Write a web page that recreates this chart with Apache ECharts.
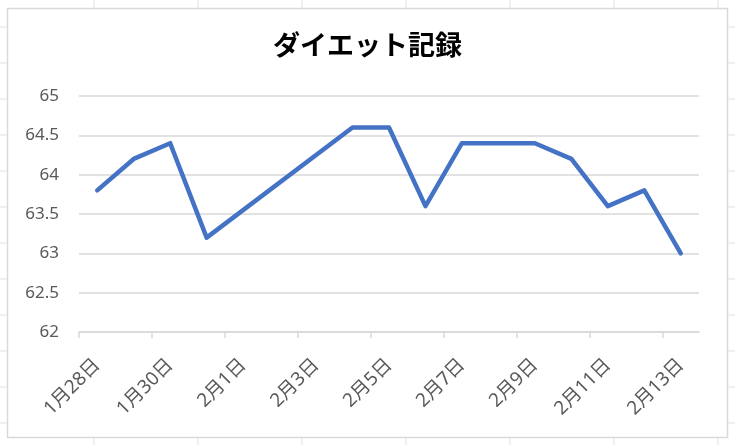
<!DOCTYPE html>
<html><head><meta charset="utf-8">
<script src="https://cdn.jsdelivr.net/npm/echarts@6/dist/echarts.min.js"></script>
<style>html,body{margin:0;padding:0;background:#fff}#c{width:735px;height:445px}</style>
</head><body><div id="c"></div>
<script>
const titleText = 'ダイエット記録';
const categories = ['1月28日','1月29日','1月30日','1月31日','2月1日','2月2日','2月3日','2月4日','2月5日','2月6日','2月7日','2月8日','2月9日','2月10日','2月11日','2月12日','2月13日'];
const weights = [63.8, 64.2, 64.4, 63.2, null, null, null, 64.6, 64.6, 63.6, 64.4, 64.4, 64.4, 64.2, 63.6, 63.8, 63.0];
const yMin = 62, yMax = 65, yStep = 0.5;

const font = "'Noto Sans', 'Noto Sans CJK JP', sans-serif";
const chart = echarts.init(document.getElementById('c'), null, {renderer: 'canvas'});

// spreadsheet cell lines around the chart (decoration)
const bg = [];
const colX = [94, 198, 302, 406, 510, 614, 718];
const rowY = [27, 63, 99, 135, 171, 207, 243, 279, 315, 351, 387, 423];
colX.forEach(x => bg.push({type: 'line', shape: {x1: x, y1: 0, x2: x, y2: 445}, style: {stroke: '#e1e1e1', lineWidth: 1}, z: -10}));
rowY.forEach(y => bg.push({type: 'line', shape: {x1: 0, y1: y, x2: 735, y2: y}, style: {stroke: '#e1e1e1', lineWidth: 1}, z: -10}));
bg.push({type: 'rect', shape: {x: 7.5, y: 8.5, width: 720, height: 429}, style: {fill: '#fff', stroke: '#d9d9d9', lineWidth: 1.5}, z: -5});
// hide the extra closing tick at the right end of the category axis
bg.push({type: 'rect', shape: {x: 697, y: 333, width: 6, height: 8}, style: {fill: '#fff'}, z: 100});

chart.setOption({
  backgroundColor: '#fff',
  animation: false,
  graphic: bg,
  title: {
    text: titleText, left: 'center', top: 29,
    textStyle: {fontFamily: font, fontSize: 27, fontWeight: 'bold', color: '#000'}
  },
  grid: {left: 79, right: 36, top: 96, bottom: 113, containLabel: false},
  xAxis: {
    type: 'category', data: categories, boundaryGap: true,
    axisLine: {lineStyle: {color: '#d9d9d9', width: 1.5}},
    axisTick: {show: true, interval: 1, length: 6, lineStyle: {color: '#d9d9d9', width: 1.5}},
    axisLabel: {interval: 1, rotate: 45, fontFamily: font, fontSize: 19, color: '#595959', margin: 30},
    splitLine: {show: false}
  },
  yAxis: {
    type: 'value', min: yMin, max: yMax, interval: yStep,
    axisLine: {show: false}, axisTick: {show: false},
    axisLabel: {fontFamily: font, fontSize: 17, color: '#595959', margin: 20},
    splitLine: {lineStyle: {color: '#d9d9d9', width: 1.5}}
  },
  series: [{
    type: 'line', data: weights, connectNulls: true, showSymbol: false, symbol: 'none',
    lineStyle: {color: '#4472C4', width: 4.5, cap: 'round', join: 'round'},
    itemStyle: {color: '#4472C4'}
  }]
});
</script></body></html>
